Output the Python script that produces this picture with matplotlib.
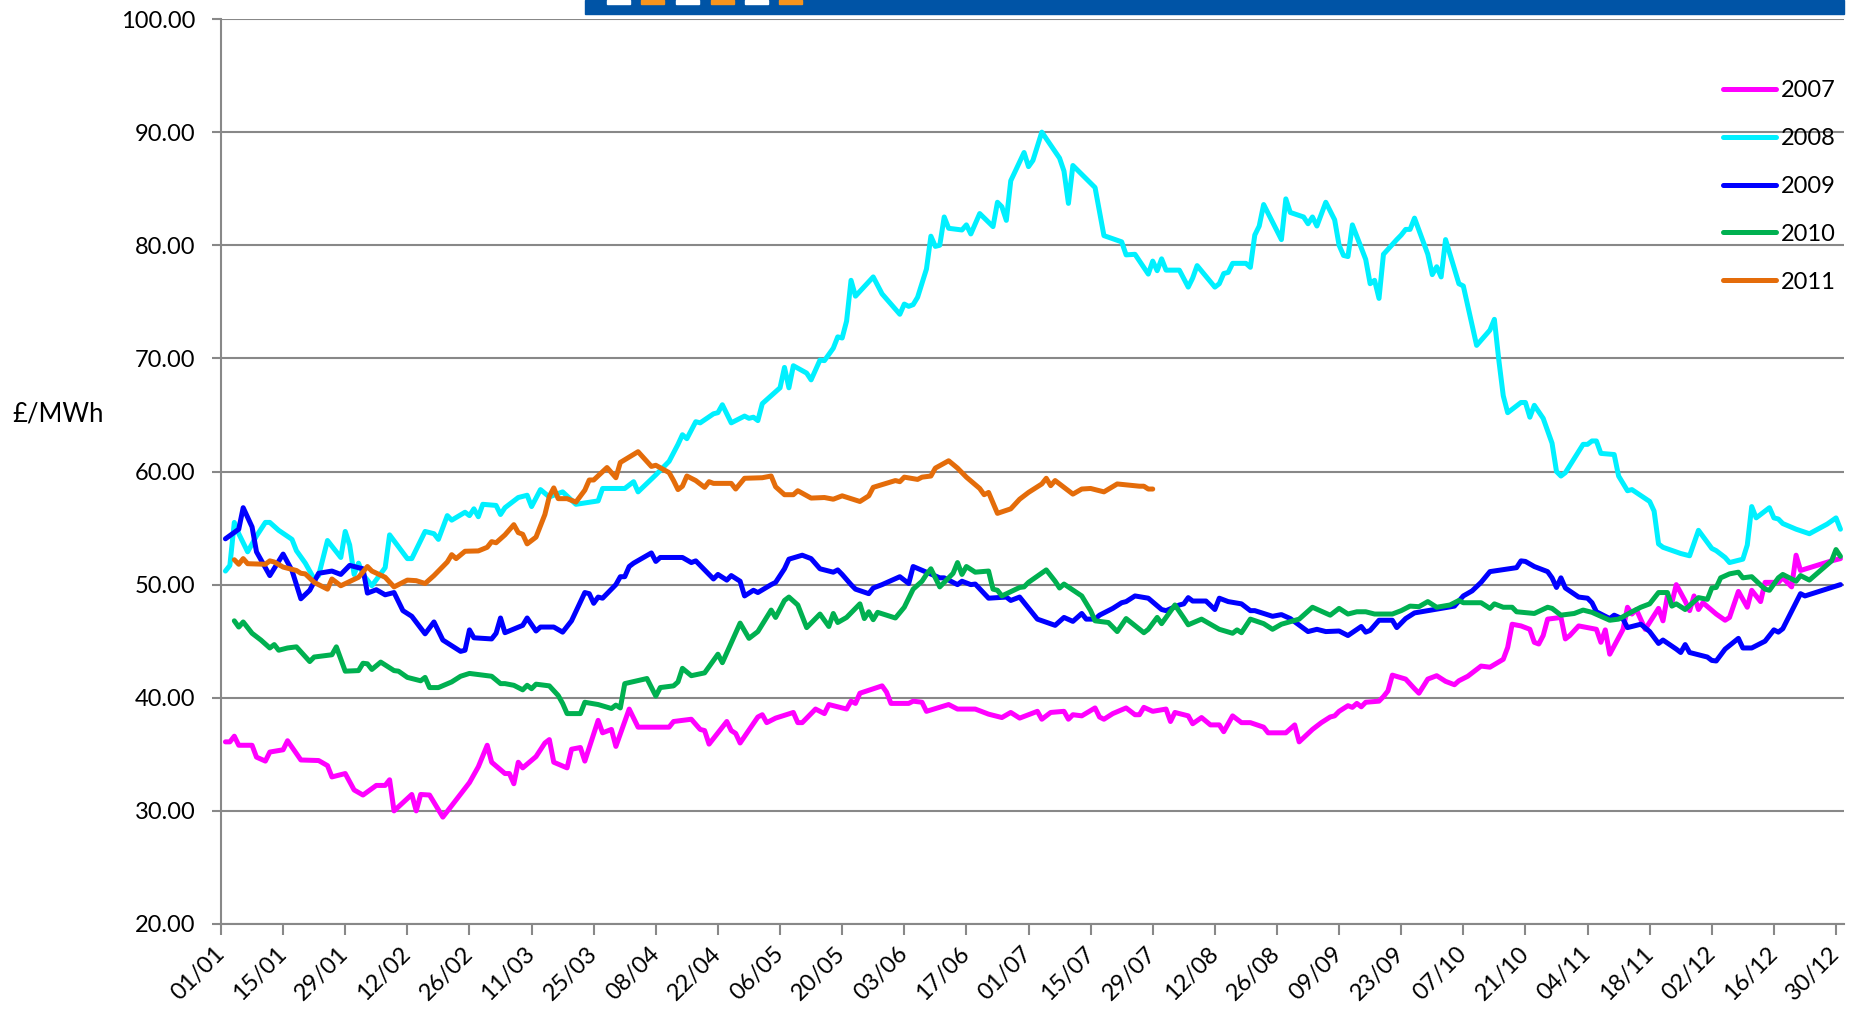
import matplotlib
matplotlib.use('Agg')
import matplotlib.pyplot as plt
from matplotlib.patches import Rectangle

plt.rcParams['font.family'] = ['Lato', 'DejaVu Sans']

# ---------------- data (day of year, £/MWh) ----------------
tick_days = list(range(0, 365, 14))
tick_labels = ['01/01', '15/01', '29/01', '12/02', '26/02', '11/03', '25/03', '08/04',
               '22/04', '06/05', '20/05', '03/06', '17/06', '01/07', '15/07', '29/07',
               '12/08', '26/08', '09/09', '23/09', '07/10', '21/10', '04/11', '18/11',
               '02/12', '16/12', '30/12']
y_ticks = [20, 30, 40, 50, 60, 70, 80, 90, 100]
y_label = '£/MWh'
series_names = ['2007', '2008', '2009', '2010', '2011']
series_colors = ['#FF00FF', '#00F0FF', '#0000FF', '#00B050', '#E46C0A']

days_2007 = [1, 2, 3, 4, 7, 8, 10, 11, 14, 15, 18, 22, 24, 25, 28, 30, 32, 35, 37, 38, 39, 43, 44, 45, 47, 50,
             56, 58, 60, 61, 64, 65, 66, 67, 68, 71, 73, 74, 75, 78, 79, 81, 82, 85, 86, 88, 89, 92, 94,
             101, 102, 106, 108, 109, 110, 114, 115, 116, 117, 121, 122, 123, 125, 129, 130, 131, 134,
             136, 137, 141, 142, 143, 144, 149, 150, 151, 155, 156, 158, 159, 164, 166, 170, 173, 176,
             178, 180, 184, 185, 187, 190, 191, 192, 194, 197, 198, 199, 201, 204, 206, 207, 208, 210,
             213, 214, 215, 218, 219, 221, 223, 225, 226, 228, 230, 232, 235, 236, 240, 242, 243, 246,
             248, 250, 251, 252, 254, 255, 256, 257, 258, 261, 262, 263, 264, 267, 269, 270, 272, 274,
             276, 278, 279, 281, 283, 284, 286, 289, 290, 291, 293, 295, 296, 297, 298, 299, 302, 303,
             304, 306, 310, 311, 312, 313, 316, 317, 318, 319, 321, 324, 325, 326, 327, 328, 330, 331,
             332, 333, 334, 337, 339, 340, 342, 344, 345, 347, 348, 351, 352, 354, 355, 356, 363, 365]
vals_2007 = [36.1, 36.1, 36.6, 35.8, 35.8, 34.75, 34.4, 35.2, 35.4, 36.2, 34.5, 34.45, 34.0, 33.0, 33.3,
             31.85, 31.4, 32.25, 32.25, 32.75, 30.0, 31.45, 30.0, 31.45, 31.4, 29.45,
             32.5, 33.9, 35.8, 34.3, 33.3, 33.3, 32.4, 34.3, 33.8, 34.8, 36.0, 36.3, 34.3, 33.8, 35.45,
             35.6, 34.4, 38.0, 36.9, 37.2, 35.7, 39.0, 37.4,
             37.4, 37.9, 38.1, 37.2, 37.1, 35.9, 37.9, 37.1, 36.85, 36.0, 38.3, 38.5, 37.8, 38.2, 38.7,
             37.8, 37.8, 39.0, 38.6, 39.4, 39.0, 39.7, 39.5, 40.4, 41.05, 40.5, 39.5, 39.5, 39.7, 39.6,
             38.8, 39.4, 39.0, 39.0, 38.55, 38.25, 38.7, 38.2, 38.8, 38.1, 38.7, 38.8, 38.1, 38.5, 38.4,
             39.1, 38.3, 38.1, 38.6, 39.1, 38.5, 38.5, 39.15, 38.8, 39.0, 37.9, 38.7, 38.4, 37.7, 38.25,
             37.6, 37.6, 37.0, 38.4, 37.8, 37.8, 37.4, 36.9, 36.9, 37.6, 36.1, 37.2, 37.8, 38.3, 38.4,
             38.8, 39.3, 39.15, 39.5, 39.2, 39.6, 39.7, 40.1, 40.6, 42.0, 41.65, 40.8, 40.4, 41.65, 41.95,
             41.45, 41.15, 41.5, 41.9, 42.5, 42.8, 42.7, 43.4, 44.45, 46.5, 46.35, 46.05, 44.9, 44.75,
             45.5, 46.95, 47.1, 45.2, 45.5, 46.35, 46.05, 44.9, 46.0, 43.85, 46.05, 48.0, 47.4, 47.8,
             46.05, 47.9, 46.8, 49.0, 48.4, 50.0, 48.55, 47.7, 49.0, 47.8, 48.4, 47.4, 46.85, 47.1, 49.4,
             48.0, 49.5, 48.5, 50.2, 50.2, 50.6, 49.8, 52.6, 51.25, 52.1, 52.3]

days_2008 = [1, 2, 3, 4, 6, 8, 10, 11, 13, 16, 17, 19, 21, 22, 24, 27, 28, 29, 30, 31, 32, 34, 37, 38, 42,
             43, 44, 46, 48, 49, 51, 52, 55, 56, 57, 58, 59, 62, 63, 64, 67, 69, 70, 72, 74, 77, 80, 85,
             86, 91, 93, 94, 98, 101, 103, 104, 105, 107, 108, 111, 112, 113, 115, 118, 119, 120, 121,
             122, 126, 127, 128, 129, 132, 133, 135, 136, 138, 139, 140, 141, 142, 143, 147, 149, 153,
             154, 155, 156, 157, 159, 160, 161, 162, 163, 164, 167, 168, 169, 171, 174, 175, 176, 177,
             178, 181, 182, 183, 185, 189, 190, 191, 192, 197, 198, 199, 203, 204, 206, 209, 210, 211,
             212, 213, 216, 218, 219, 220, 224, 225, 226, 227, 228, 231, 232, 233, 234, 235, 239, 240,
             241, 244, 245, 246, 247, 249, 251, 252, 253, 254, 255, 258, 259, 260, 261, 262, 265, 266,
             267, 268, 269, 272, 273, 274, 275, 276, 279, 280, 283, 284, 286, 287, 288, 289, 290, 293,
             294, 295, 296, 298, 300, 301, 302, 303, 307, 308, 309, 310, 311, 314, 315, 317, 318, 322,
             323, 324, 325, 329, 331, 333, 336, 337, 339, 340, 343, 344, 345, 346, 349, 350, 351, 352,
             355, 358, 362, 364, 365]
vals_2008 = [51.2, 51.7, 55.5, 54.5, 52.9, 54.3, 55.5, 55.5, 54.8, 54.0, 53.0, 51.9, 50.5, 50.8, 53.9, 52.4,
             54.7, 53.5, 50.9, 51.9, 50.9, 49.9, 51.5, 54.4, 52.3, 52.3, 53.1, 54.7, 54.5, 54.0, 56.1,
             55.7, 56.4, 56.1, 56.7, 56.0, 57.1, 57.0, 56.2, 56.8, 57.7, 57.9, 56.9, 58.4, 57.75, 58.2,
             57.1, 57.4, 58.5, 58.5, 59.1, 58.2, 59.7, 60.9, 62.4, 63.25, 62.9, 64.4, 64.3, 65.1, 65.2,
             65.9, 64.3, 64.9, 64.7, 64.8, 64.5, 66.0, 67.4, 69.2, 67.4, 69.35, 68.7, 68.1, 69.85, 69.8,
             70.9, 71.9, 71.8, 73.3, 76.9, 75.5, 77.2, 75.7, 73.9, 74.8, 74.6, 74.75, 75.4, 77.9, 80.8,
             79.9, 80.0, 82.5, 81.5, 81.35, 81.8, 81.0, 82.8, 81.65, 83.8, 83.4, 82.2, 85.7, 88.2, 86.95,
             87.5, 90.0, 87.7, 86.55, 83.7, 87.05, 85.1, 83.0, 80.85, 80.3, 79.15, 79.2, 77.45, 78.6,
             77.75, 78.8, 77.8, 77.8, 76.3, 77.1, 78.2, 76.3, 76.6, 77.5, 77.6, 78.4, 78.4, 78.05, 80.9,
             81.7, 83.6, 80.5, 84.1, 82.9, 82.5, 81.9, 82.5, 81.7, 83.8, 82.25, 80.0, 79.1, 79.0, 81.8,
             78.75, 76.6, 76.9, 75.3, 79.2, 80.5, 80.9, 81.4, 81.4, 82.4, 79.2, 77.4, 78.1, 77.2, 80.5,
             76.6, 76.4, 71.15, 71.6, 72.5, 73.45, 69.85, 66.7, 65.2, 66.1, 66.1, 64.8, 65.85, 64.7, 62.5,
             60.0, 59.6, 59.9, 62.4, 62.4, 62.7, 62.7, 61.6, 61.5, 59.6, 58.3, 58.4, 57.35, 56.5, 53.6,
             53.3, 52.75, 52.55, 54.8, 53.2, 53.0, 52.4, 51.95, 52.25, 53.5, 56.9, 55.9, 56.8, 55.9, 55.8,
             55.4, 54.9, 54.5, 55.35, 55.9, 54.9]

days_2009 = [1, 4, 5, 7, 8, 11, 14, 16, 18, 20, 22, 25, 27, 29, 32, 33, 35, 37, 39, 41, 43, 46, 48, 50, 54,
             55, 56, 57, 61, 62, 63, 64, 68, 69, 71, 72, 75, 77, 79, 82, 83, 84, 85, 86, 89, 90, 91, 92,
             93, 97, 98, 99, 104, 106, 107, 111, 112, 114, 115, 117, 118, 120, 121, 124, 125, 127, 128,
             131, 133, 135, 138, 139, 140, 142, 143, 146, 147, 149, 153, 155, 156, 162, 163, 166, 167,
             169, 170, 173, 177, 178, 180, 184, 188, 190, 192, 194, 195, 197, 198, 201, 203, 204, 206,
             209, 212, 213, 216, 217, 218, 219, 222, 224, 225, 227, 230, 231, 232, 233, 237, 239, 241,
             245, 247, 249, 252, 254, 257, 258, 259, 261, 264, 265, 267, 269, 272, 278, 280, 282, 284,
             286, 292, 293, 294, 296, 299, 300, 301, 302, 303, 306, 308, 309, 310, 313, 314, 316, 317,
             320, 322, 324, 325, 328, 329, 330, 331, 335, 336, 337, 339, 342, 343, 345, 348, 350, 351,
             352, 356, 357, 365]
vals_2009 = [54.05, 54.9, 56.8, 55.1, 52.9, 50.8, 52.7, 51.25, 48.75, 49.5, 51.0, 51.2, 50.9, 51.7, 51.4,
             49.25, 49.55, 49.1, 49.3, 47.7, 47.2, 45.65, 46.7, 45.1, 44.1, 44.2, 46.0, 45.3, 45.2, 45.7,
             47.05, 45.75, 46.4, 47.05, 45.9, 46.25, 46.25, 45.8, 46.8, 49.3, 49.2, 48.35, 48.9, 48.8,
             50.0, 50.7, 50.7, 51.6, 51.9, 52.8, 52.05, 52.4, 52.4, 51.95, 52.1, 50.5, 50.9, 50.4, 50.8,
             50.3, 49.0, 49.5, 49.3, 50.0, 50.2, 51.4, 52.25, 52.6, 52.3, 51.4, 51.1, 51.3, 50.9, 50.0,
             49.6, 49.2, 49.7, 50.0, 50.7, 50.1, 51.6, 50.6, 50.6, 50.0, 50.3, 50.0, 50.05, 48.8, 48.9,
             48.6, 48.9, 46.95, 46.4, 47.1, 46.75, 47.45, 46.95, 46.95, 47.3, 47.9, 48.4, 48.5, 49.0,
             48.8, 47.8, 47.7, 48.2, 48.3, 48.85, 48.55, 48.55, 47.8, 48.8, 48.5, 48.3, 48.0, 47.7, 47.7,
             47.2, 47.35, 47.0, 45.85, 46.05, 45.85, 45.9, 45.5, 46.3, 45.8, 45.95, 46.85, 46.85, 46.2,
             47.0, 47.5, 47.7, 48.1, 49.0, 49.45, 50.2, 51.15, 51.5, 52.1, 52.05, 51.6, 51.15, 50.6,
             49.75, 50.6, 49.7, 48.9, 48.8, 48.4, 47.6, 47.0, 47.3, 46.95, 46.2, 46.5, 45.85, 44.8, 45.1,
             44.3, 44.0, 44.7, 44.0, 43.6, 43.3, 43.25, 44.3, 45.25, 44.4, 44.4, 45.0, 46.0, 45.8, 46.1,
             49.2, 49.0, 50.0]

days_2010 = [3, 4, 5, 7, 9, 11, 12, 13, 15, 17, 20, 21, 25, 26, 28, 31, 32, 33, 34, 36, 39, 40, 42, 45, 46,
             47, 49, 52, 54, 56, 61, 63, 64, 66, 68, 69, 70, 71, 74, 76, 77, 78, 81, 82, 85, 88, 89, 90,
             91, 96, 98, 99, 102, 103, 104, 106, 109, 112, 113, 117, 119, 121, 124, 125, 127, 128, 130,
             132, 135, 137, 138, 139, 141, 144, 145, 146, 147, 148, 152, 154, 156, 158, 159, 160, 162,
             165, 166, 167, 168, 170, 173, 174, 175, 176, 180, 181, 182, 186, 188, 189, 190, 194, 196,
             197, 200, 202, 204, 208, 209, 211, 212, 215, 217, 218, 221, 225, 228, 229, 230, 232, 235,
             237, 239, 243, 244, 246, 250, 252, 254, 256, 258, 260, 264, 266, 268, 270, 272, 274, 277,
             279, 280, 284, 286, 287, 289, 291, 292, 296, 299, 300, 302, 305, 307, 309, 313, 315, 318,
             320, 322, 324, 326, 327, 328, 330, 333, 335, 336, 337, 338, 340, 342, 343, 345, 348, 349,
             351, 352, 355, 356, 358, 363, 364, 365]
vals_2010 = [46.8, 46.25, 46.7, 45.7, 45.1, 44.4, 44.7, 44.2, 44.4, 44.5, 43.2, 43.6, 43.8, 44.5, 42.35,
             42.4, 43.05, 43.0, 42.5, 43.15, 42.4, 42.35, 41.8, 41.5, 41.8, 40.9, 40.9, 41.4, 41.9, 42.15,
             41.9, 41.25, 41.25, 41.1, 40.7, 41.1, 40.8, 41.2, 41.05, 40.2, 39.5, 38.6, 38.6, 39.6, 39.4,
             39.05, 39.35, 39.1, 41.25, 41.7, 40.15, 40.9, 41.05, 41.4, 42.6, 41.95, 42.2, 43.85, 43.1,
             46.6, 45.25, 45.85, 47.75, 47.1, 48.6, 48.9, 48.2, 46.2, 47.4, 46.3, 47.45, 46.65, 47.1,
             48.3, 47.0, 47.6, 46.9, 47.55, 47.05, 48.0, 49.6, 50.3, 50.9, 51.4, 49.8, 51.0, 51.95, 50.9,
             51.6, 51.1, 51.2, 49.6, 49.5, 49.0, 49.75, 49.8, 50.2, 51.3, 50.3, 49.7, 50.05, 49.0, 47.7,
             46.8, 46.65, 45.85, 47.0, 45.75, 46.05, 47.1, 46.55, 48.2, 47.05, 46.45, 46.95, 46.05, 45.7,
             46.0, 45.75, 46.95, 46.55, 46.05, 46.5, 46.95, 47.3, 48.0, 47.3, 47.9, 47.4, 47.6, 47.6,
             47.4, 47.4, 47.7, 48.1, 48.05, 48.5, 48.0, 48.2, 48.6, 48.4, 48.4, 47.9, 48.3, 48.0, 48.0,
             47.6, 47.45, 48.0, 47.9, 47.3, 47.45, 47.75, 47.55, 46.85, 46.95, 47.6, 48.0, 48.3, 49.3,
             49.3, 48.1, 48.3, 47.8, 48.85, 48.7, 49.7, 49.75, 50.6, 50.95, 51.1, 50.6, 50.7, 49.6, 49.5,
             50.6, 50.9, 50.3, 50.8, 50.4, 52.1, 53.1, 52.5]

days_2011 = [3, 4, 5, 6, 10, 11, 12, 14, 17, 18, 19, 21, 24, 25, 27, 31, 33, 34, 37, 39, 42, 44, 46, 48,
             51, 52, 53, 55, 58, 60, 61, 62, 64, 66, 67, 68, 69, 71, 72, 73, 74, 75, 76, 78, 80, 82, 83,
             84, 87, 89, 90, 94, 97, 98, 101, 102, 103, 104, 105, 107, 109, 110, 111, 115, 116, 118, 122,
             124, 125, 127, 129, 130, 133, 136, 138, 140, 144, 146, 147, 152, 153, 154, 157, 158, 160,
             161, 164, 166, 168, 171, 172, 173, 175, 178, 180, 182, 185, 186, 187, 188, 192, 194, 196,
             199, 202, 207, 208, 209, 210]
vals_2011 = [52.2, 51.8, 52.3, 51.85, 51.8, 52.1, 52.0, 51.55, 51.25, 51.0, 50.95, 50.2, 49.6, 50.5, 49.9,
             50.65, 51.6, 51.2, 50.65, 49.8, 50.4, 50.35, 50.1, 50.8, 52.0, 52.65, 52.3, 52.95, 52.98,
             53.3, 53.8, 53.7, 54.4, 55.3, 54.6, 54.45, 53.6, 54.2, 55.2, 56.2, 57.8, 58.55, 57.6, 57.6,
             57.3, 58.35, 59.25, 59.25, 60.35, 59.45, 60.8, 61.75, 60.45, 60.55, 59.9, 59.2, 58.4, 58.7,
             59.6, 59.2, 58.6, 59.1, 58.95, 58.95, 58.45, 59.4, 59.45, 59.6, 58.65, 57.95, 57.95, 58.3,
             57.65, 57.7, 57.55, 57.85, 57.35, 57.85, 58.6, 59.2, 59.1, 59.5, 59.3, 59.5, 59.6, 60.3,
             60.95, 60.3, 59.5, 58.5, 57.95, 58.15, 56.3, 56.7, 57.55, 58.15, 58.9, 59.4, 58.75, 59.2,
             58.0, 58.45, 58.5, 58.2, 58.9, 58.7, 58.7, 58.45, 58.45]

all_days = [days_2007, days_2008, days_2009, days_2010, days_2011]
all_vals = [vals_2007, vals_2008, vals_2009, vals_2010, vals_2011]

# ---------------- figure ----------------
W, H = 1853, 1009
fig = plt.figure(figsize=(W / 100, H / 100), dpi=100)
ax = fig.add_axes([221 / W, 1 - 924 / H, (1844 - 221) / W, (924 - 19) / H])

grid_col = '#888888'
for name, col, d, v in zip(series_names, series_colors, all_days, all_vals):
    ax.plot(d, v, color=col, lw=3.6, label=name, solid_joinstyle='round',
            solid_capstyle='round', zorder=3)

ax.set_xlim(0, 365.8)
ax.set_ylim(20, 100)
ax.set_yticks(y_ticks)
ax.set_yticklabels(['%.2f' % t for t in y_ticks])
ax.set_xticks(tick_days)
ax.set_xticklabels(tick_labels, rotation=45, ha='right', va='center',
                   rotation_mode='anchor')
ax.yaxis.grid(True, color=grid_col, lw=1.5, zorder=1)
ax.set_axisbelow(True)
for s in ['top', 'right']:
    ax.spines[s].set_visible(False)
for s in ['left', 'bottom']:
    ax.spines[s].set_color(grid_col)
    ax.spines[s].set_linewidth(1.5)
ax.tick_params(axis='y', direction='out', length=6.5, width=1.5, color=grid_col,
               labelsize=17, pad=12)
ax.tick_params(axis='x', direction='out', length=8, width=1.5, color=grid_col,
               labelsize=17, pad=11)

fig.text(12 / W, 1 - 414 / H, y_label, fontsize=18.5, ha='left', va='center')

leg = ax.legend(loc='upper left', bbox_to_anchor=(1723 / W, 1 - 80 / H),
                bbox_transform=fig.transFigure, frameon=False, borderpad=0,
                borderaxespad=0, handlelength=2.25, handletextpad=0.2,
                labelspacing=1.14, fontsize=17)

# banner at the top
fig.patches.append(Rectangle((585 / W, 1 - 14 / H), (1844 - 585) / W, 14 / H,
                             transform=fig.transFigure, color='#0054A6', zorder=5))
sq_x = [607, 641, 676, 711, 745, 779]
sq_c = ['white', '#F7941D', 'white', '#F7941D', 'white', '#F7941D']
for x0, c in zip(sq_x, sq_c):
    fig.patches.append(Rectangle((x0 / W, 1 - 4 / H), 23 / W, 4 / H,
                                 transform=fig.transFigure, color=c, zorder=6))

fig.savefig('out.png', dpi=100)
